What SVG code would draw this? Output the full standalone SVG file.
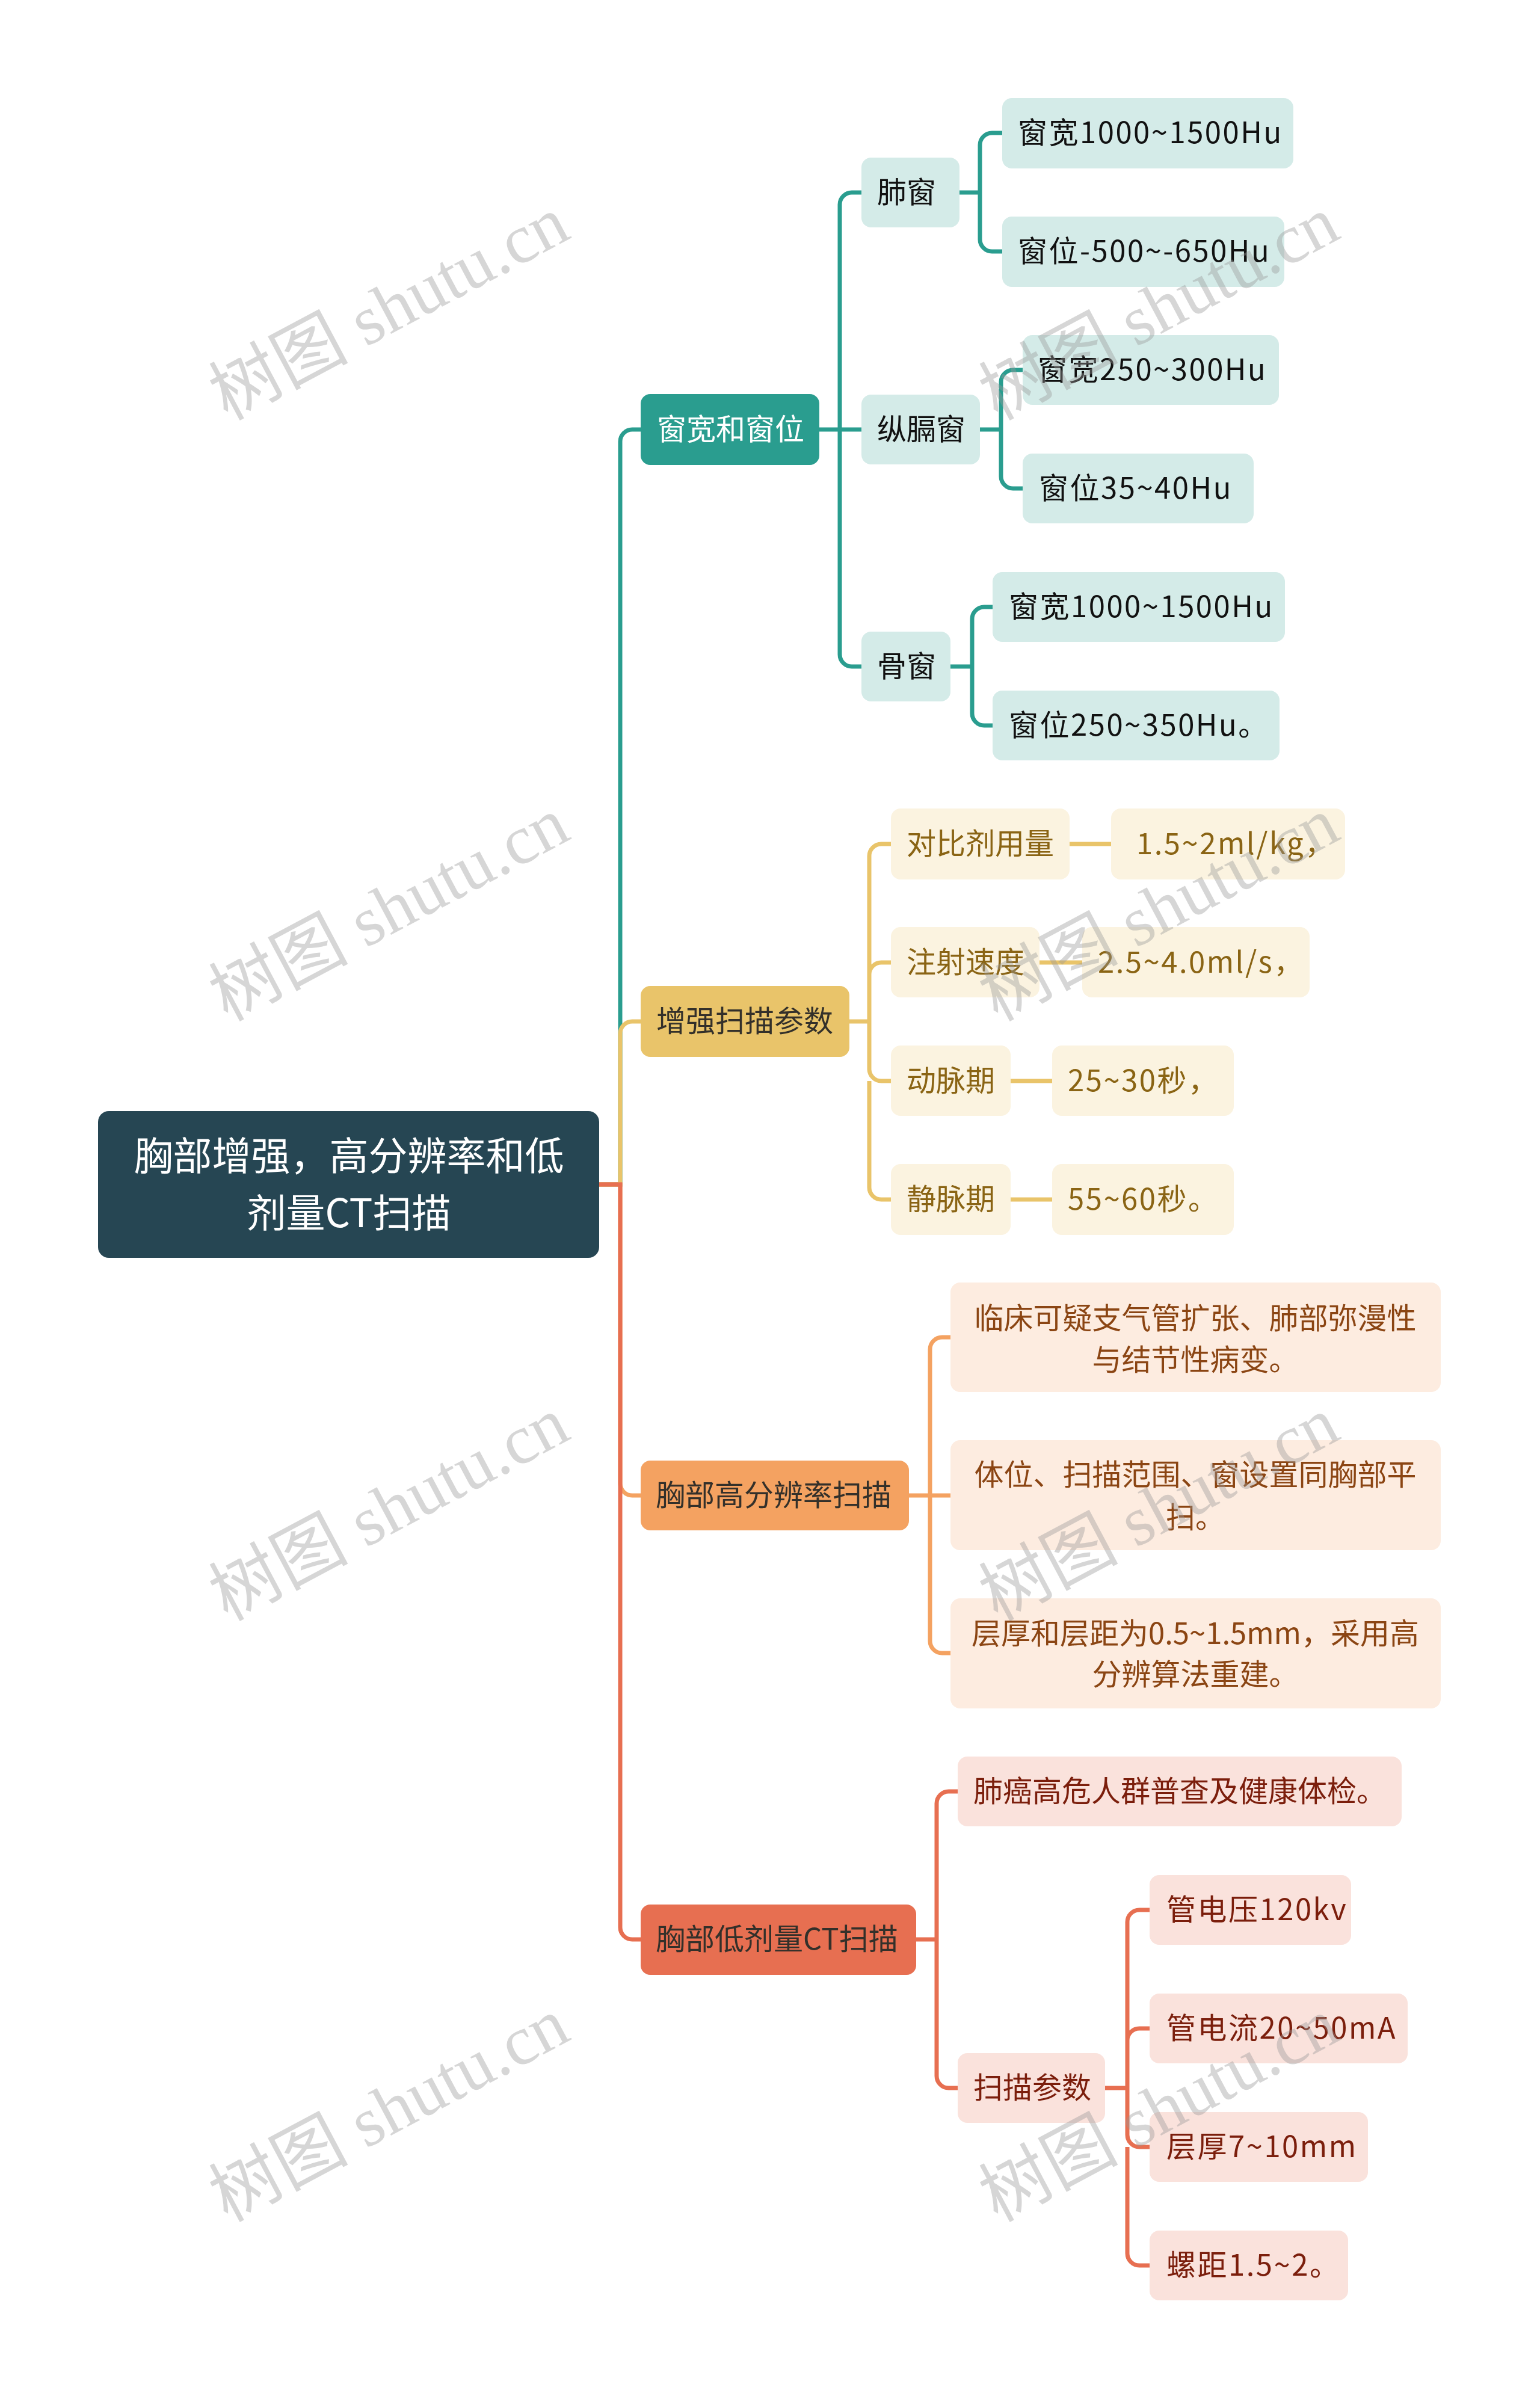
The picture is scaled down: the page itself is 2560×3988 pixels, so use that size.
<svg xmlns="http://www.w3.org/2000/svg" width="2560" height="3988" viewBox="0 0 2560 3988">
<style>
text{font-family:"Noto Sans CJK SC","Noto Sans",sans-serif;font-size:49px}
.num{letter-spacing:2.5px}
.root{fill:#264653}
.rt{fill:#ffffff;font-size:65px}
.c1{fill:none;stroke-width:7;stroke-linecap:butt}
.teal{stroke:#2a9d8f}.yel{stroke:#e9c46a}.ora{stroke:#f4a261}.red{stroke:#e76f51}
.n1t{fill:#2a9d8f}.n1y{fill:#e9c46a}.n1o{fill:#f4a261}.n1r{fill:#e76f51}
.lt{fill:#d4ebe8}.ly{fill:#fbf3e0}.lo{fill:#fdece0}.lr{fill:#fae2dc}
.tw{fill:#ffffff}.td{fill:#33302a}.tk{fill:#111111}.tg{fill:#8a6414}.tb{fill:#8b4513}.tr{fill:#7b1e0c}
.wm{font-family:"Liberation Serif","Noto Sans CJK SC",serif;font-size:116px;fill:#999999;fill-opacity:0.4}
</style>
<rect width="2560" height="3988" fill="#ffffff"/>
<g id="connectors">
<path class="c1 teal" d="M996 1969 H1031 V734 A20 20 0 0 1 1051 714 H1065"/>
<path class="c1 yel" d="M996 1969 H1031 V1718 A20 20 0 0 1 1051 1698 H1065"/>
<path class="c1 ora" d="M996 1969 H1031 V2466 A20 20 0 0 0 1051 2486 H1065"/>
<path class="c1 red" d="M996 1969 H1031 V3204 A20 20 0 0 0 1051 3224 H1065"/>
<path class="c1 teal" d="M1362 714 H1396 V340 A20 20 0 0 1 1416 320 H1432 M1362 714 H1432 M1396 714 V1088 A20 20 0 0 0 1416 1108 H1432"/>
<path class="c1 teal" d="M1595 320 H1629 V241 A20 20 0 0 1 1649 221 H1666 M1629 320 V398 A20 20 0 0 0 1649 418 H1666"/>
<path class="c1 teal" d="M1629 714 H1664 V635 A20 20 0 0 1 1684 615 H1700 M1664 714 V792 A20 20 0 0 0 1684 812 H1700"/>
<path class="c1 teal" d="M1580 1108 H1616 V1029 A20 20 0 0 1 1636 1009 H1650 M1616 1108 V1186 A20 20 0 0 0 1636 1206 H1650"/>
<path class="c1 yel" d="M1412 1698 H1445 V1423 A20 20 0 0 1 1465 1403 H1481 M1445 1698 V1620 A20 20 0 0 1 1465 1600 H1481 M1445 1698 V1777 A20 20 0 0 0 1465 1797 H1481 M1445 1797 V1974 A20 20 0 0 0 1465 1994 H1481"/>
<path class="c1 yel" d="M1778 1403 H1847 M1728 1600 H1799 M1680 1797 H1749 M1680 1994 H1749"/>
<path class="c1 ora" d="M1511 2486 H1546 V2243 A20 20 0 0 1 1566 2223 H1580 M1511 2486 H1580 M1546 2486 V2728 A20 20 0 0 0 1566 2748 H1580"/>
<path class="c1 red" d="M1523 3224 H1557 V2998 A20 20 0 0 1 1577 2978 H1592 M1557 3224 V3451 A20 20 0 0 0 1577 3471 H1592"/>
<path class="c1 red" d="M1837 3471 H1874 V3195 A20 20 0 0 1 1894 3175 H1911 M1874 3471 V3392 A20 20 0 0 1 1894 3372 H1911 M1874 3471 V3549 A20 20 0 0 0 1894 3569 H1911 M1874 3569 V3746 A20 20 0 0 0 1894 3766 H1911"/>
</g>
<g id="root"><rect class="root" x="163" y="1847" width="833" height="244" rx="18"/>
<text class="rt" text-anchor="middle"><tspan x="580" y="1945">胸部增强，高分辨率和低</tspan><tspan x="580" y="2040">剂量CT扫描</tspan></text></g>

<g id="n-window"><rect class="n1t" x="1065" y="655" width="297" height="118" rx="16"/><text class="tw" x="1092" y="731">窗宽和窗位</text></g>
<g id="n-lung"><rect class="lt" x="1432" y="262" width="163" height="116" rx="16"/><text class="tk" x="1458" y="337">肺窗</text></g>
<g id="n-lung-w"><rect class="lt" x="1666" y="163" width="484" height="117" rx="16"/><text class="tk num" x="1692" y="238">窗宽1000~1500Hu</text></g>
<g id="n-lung-l"><rect class="lt" x="1666" y="360" width="469" height="117" rx="16"/><text class="tk num" x="1692" y="435">窗位-500~-650Hu</text></g>
<g id="n-med"><rect class="lt" x="1432" y="656" width="197" height="116" rx="16"/><text class="tk" x="1458" y="731">纵膈窗</text></g>
<g id="n-med-w"><rect class="lt" x="1700" y="557" width="426" height="116" rx="16"/><text class="tk num" x="1725" y="632">窗宽250~300Hu</text></g>
<g id="n-med-l"><rect class="lt" x="1700" y="754" width="384" height="116" rx="16"/><text class="tk num" x="1727" y="829">窗位35~40Hu</text></g>
<g id="n-bone"><rect class="lt" x="1432" y="1050" width="148" height="116" rx="16"/><text class="tk" x="1458" y="1125">骨窗</text></g>
<g id="n-bone-w"><rect class="lt" x="1650" y="951" width="486" height="116" rx="16"/><text class="tk num" x="1677" y="1026">窗宽1000~1500Hu</text></g>
<g id="n-bone-l"><rect class="lt" x="1650" y="1148" width="477" height="116" rx="16"/><text class="tk num" x="1677" y="1223">窗位250~350Hu。</text></g>

<g id="n-enh"><rect class="n1y" x="1065" y="1639" width="347" height="118" rx="16"/><text class="td" x="1091" y="1715">增强扫描参数</text></g>
<g id="n-dose"><rect class="ly" x="1481" y="1344" width="297" height="118" rx="16"/><text class="tg" x="1507" y="1420">对比剂用量</text></g>
<g id="n-dose-v"><rect class="ly" x="1847" y="1344" width="389" height="118" rx="16"/><text class="tg num" x="1889" y="1420">1.5~2ml/kg，</text></g>
<g id="n-speed"><rect class="ly" x="1481" y="1541" width="247" height="117" rx="16"/><text class="tg" x="1507" y="1617">注射速度</text></g>
<g id="n-speed-v"><rect class="ly" x="1799" y="1541" width="378" height="117" rx="16"/><text class="tg num" x="1825" y="1617">2.5~4.0ml/s，</text></g>
<g id="n-art"><rect class="ly" x="1481" y="1738" width="199" height="117" rx="16"/><text class="tg" x="1507" y="1814">动脉期</text></g>
<g id="n-art-v"><rect class="ly" x="1749" y="1738" width="302" height="117" rx="16"/><text class="tg num" x="1775" y="1814">25~30秒，</text></g>
<g id="n-ven"><rect class="ly" x="1481" y="1935" width="199" height="118" rx="16"/><text class="tg" x="1507" y="2011">静脉期</text></g>
<g id="n-ven-v"><rect class="ly" x="1749" y="1935" width="302" height="118" rx="16"/><text class="tg num" x="1775" y="2011">55~60秒。</text></g>

<g id="n-hr"><rect class="n1o" x="1065" y="2428" width="446" height="116" rx="16"/><text class="td" x="1090" y="2503">胸部高分辨率扫描</text></g>
<g id="n-hr-1"><rect class="lo" x="1580" y="2132" width="815" height="182" rx="16"/><text class="tb" text-anchor="middle"><tspan x="1987" y="2209">临床可疑支气管扩张、肺部弥漫性</tspan><tspan x="1987" y="2278">与结节性病变。</tspan></text></g>
<g id="n-hr-2"><rect class="lo" x="1580" y="2394" width="815" height="183" rx="16"/><text class="tb" text-anchor="middle"><tspan x="1987" y="2469">体位、扫描范围、窗设置同胸部平</tspan><tspan x="1987" y="2540">扫。</tspan></text></g>
<g id="n-hr-3"><rect class="lo" x="1580" y="2657" width="815" height="183" rx="16"/><text class="tb" text-anchor="middle"><tspan x="1987" y="2733">层厚和层距为0.5~1.5mm，采用高</tspan><tspan x="1987" y="2801">分辨算法重建。</tspan></text></g>

<g id="n-ld"><rect class="n1r" x="1065" y="3166" width="458" height="117" rx="16"/><text class="td" x="1090" y="3241">胸部低剂量CT扫描</text></g>
<g id="n-ld-1"><rect class="lr" x="1592" y="2920" width="738" height="116" rx="16"/><text class="tr" x="1618" y="2995">肺癌高危人群普查及健康体检。</text></g>
<g id="n-ld-2"><rect class="lr" x="1592" y="3413" width="245" height="116" rx="16"/><text class="tr" x="1618" y="3488">扫描参数</text></g>
<g id="n-ld-kv"><rect class="lr" x="1911" y="3117" width="335" height="116" rx="16"/><text class="tr num" x="1939" y="3192">管电压120kv</text></g>
<g id="n-ld-ma"><rect class="lr" x="1911" y="3314" width="429" height="116" rx="16"/><text class="tr num" x="1939" y="3389">管电流20~50mA</text></g>
<g id="n-ld-th"><rect class="lr" x="1911" y="3511" width="363" height="116" rx="16"/><text class="tr num" x="1939" y="3586">层厚7~10mm</text></g>
<g id="n-ld-p"><rect class="lr" x="1911" y="3708" width="330" height="116" rx="16"/><text class="tr num" x="1939" y="3783">螺距1.5~2。</text></g>

<g id="watermarks">
<text class="wm" x="665" y="547" text-anchor="middle" transform="rotate(-28 665 547)">树图 shutu.cn</text>
<text class="wm" x="665" y="1546" text-anchor="middle" transform="rotate(-28 665 1546)">树图 shutu.cn</text>
<text class="wm" x="665" y="2543" text-anchor="middle" transform="rotate(-28 665 2543)">树图 shutu.cn</text>
<text class="wm" x="665" y="3542" text-anchor="middle" transform="rotate(-28 665 3542)">树图 shutu.cn</text>
<text class="wm" x="1945" y="547" text-anchor="middle" transform="rotate(-28 1945 547)">树图 shutu.cn</text>
<text class="wm" x="1945" y="1546" text-anchor="middle" transform="rotate(-28 1945 1546)">树图 shutu.cn</text>
<text class="wm" x="1945" y="2543" text-anchor="middle" transform="rotate(-28 1945 2543)">树图 shutu.cn</text>
<text class="wm" x="1945" y="3542" text-anchor="middle" transform="rotate(-28 1945 3542)">树图 shutu.cn</text>
</g>
</svg>
